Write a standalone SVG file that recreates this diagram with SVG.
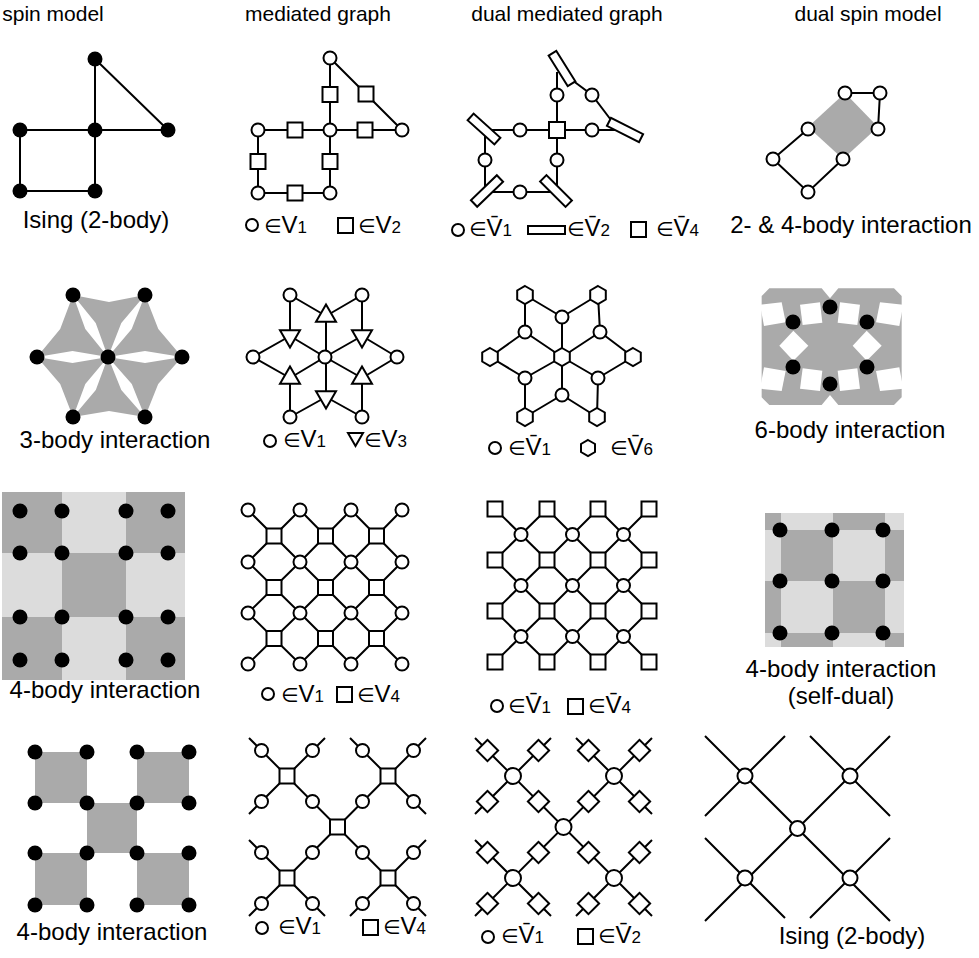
<svg xmlns="http://www.w3.org/2000/svg" width="979" height="958" viewBox="0 0 979 958">
<style>
.t{font-family:"Liberation Sans",Arial,"DejaVu Sans",sans-serif;font-size:24px;fill:#000}
.h{font-family:"Liberation Sans",Arial,sans-serif;font-size:21px;fill:#000;text-anchor:middle}
.m{text-anchor:middle}
.e{font-family:"DejaVu Sans",sans-serif;font-size:20px}
.sub{font-size:17px}
.ln{stroke:#000;stroke-width:2;fill:none}
.c{fill:#fff;stroke:#000;stroke-width:2}
.d{fill:#000}
.g1{fill:#aaa}
.g2{fill:#dcdcdc}
</style>
<rect width="979" height="958" fill="#fff"/>
<g id="headers">
<text class="h" x="53" y="21">spin model</text>
<text class="h" x="318" y="21">mediated graph</text>
<text class="h" x="567" y="21">dual mediated graph</text>
<text class="h" x="868" y="21">dual spin model</text>
</g>

<!-- Row 1 -->
<g id="r1c1">
<path class="ln" d="M95 59V191M95 59L168 130M20 130H168M20 130V191H95"/>
<circle class="d" cx="95" cy="59" r="7.5"/><circle class="d" cx="20" cy="130" r="7.5"/><circle class="d" cx="95" cy="130" r="7.5"/><circle class="d" cx="168" cy="130" r="7.5"/><circle class="d" cx="20" cy="191" r="7.5"/><circle class="d" cx="95" cy="191" r="7.5"/>
<text class="t m" x="96" y="228">Ising (2-body)</text>
</g>
<g id="r1c2">
<path class="ln" d="M330 58V193M330 58L402 130M258 130H402M258 130V193H330"/>
<rect class="c" x="322.5" y="87" width="15" height="15"/><rect class="c" x="358.5" y="86.5" width="15" height="15"/><rect class="c" x="287.5" y="122.5" width="15" height="15"/><rect class="c" x="357.5" y="122.5" width="15" height="15"/><rect class="c" x="250.5" y="154" width="15" height="15"/><rect class="c" x="322.5" y="154" width="15" height="15"/><rect class="c" x="287.5" y="185.5" width="15" height="15"/>
<circle class="c" cx="330" cy="58" r="6.5"/><circle class="c" cx="258" cy="130" r="6.5"/><circle class="c" cx="330" cy="130" r="6.5"/><circle class="c" cx="402" cy="130" r="6.5"/><circle class="c" cx="258" cy="193" r="6.5"/><circle class="c" cx="330" cy="193" r="6.5"/>
<circle class="c" cx="252" cy="225" r="6"/>
<text class="t" x="264" y="233"><tspan class="e">∈</tspan>V<tspan class="sub">1</tspan></text>
<rect class="c" x="338" y="218" width="15" height="15"/>
<text class="t" x="358" y="233"><tspan class="e">∈</tspan>V<tspan class="sub">2</tspan></text>
</g>
<g id="r1c3">
<path class="ln" d="M557 72V192M485 130H615M485 130V192H557M564 74L592 95L614 124"/>
<rect class="c" x="544" y="64" width="36" height="9" transform="rotate(58 562 68.5)"/>
<rect class="c" x="607" y="125.5" width="36" height="9" transform="rotate(27 625 130)"/>
<rect class="c" x="466" y="124.5" width="36" height="9" transform="rotate(42 484 129)"/>
<rect class="c" x="469" y="186.5" width="36" height="9" transform="rotate(-44 487 191)"/>
<rect class="c" x="538" y="186.5" width="36" height="9" transform="rotate(45 556 191)"/>
<rect class="c" x="549" y="122" width="16" height="16"/>
<circle class="c" cx="557" cy="95" r="6.5"/><circle class="c" cx="592" cy="95" r="6.5"/><circle class="c" cx="520" cy="130" r="6.5"/><circle class="c" cx="592" cy="130" r="6.5"/><circle class="c" cx="485" cy="160" r="6.5"/><circle class="c" cx="557" cy="160" r="6.5"/><circle class="c" cx="520" cy="192" r="6.5"/>
<circle class="c" cx="458" cy="230" r="6"/>
<text class="t" x="469" y="236"><tspan class="e">∈</tspan>V&#x304;<tspan class="sub">1</tspan></text>
<rect class="c" x="528" y="226" width="37" height="8"/>
<text class="t" x="567" y="236"><tspan class="e">∈</tspan>V&#x304;<tspan class="sub">2</tspan></text>
<rect class="c" x="631" y="222" width="15" height="15"/>
<text class="t" x="656" y="236"><tspan class="e">∈</tspan>V&#x304;<tspan class="sub">4</tspan></text>
</g>
<g id="r1c4">
<polygon class="g1" points="845,93 878,127 843,159 808,127"/>
<path class="ln" d="M845 93H880L878 129M808 129L773 159L808 192L843 159"/>
<circle class="c" cx="845" cy="93" r="6.5"/><circle class="c" cx="880" cy="93" r="6.5"/><circle class="c" cx="808" cy="129" r="6.5"/><circle class="c" cx="878" cy="129" r="6.5"/><circle class="c" cx="773" cy="159" r="6.5"/><circle class="c" cx="843" cy="159" r="6.5"/><circle class="c" cx="808" cy="192" r="6.5"/>
<text class="t m" x="851" y="233">2- &amp; 4-body interaction</text>
</g>

<!-- Row 2 -->
<g id="r2c1">
<polygon class="g1" points="108,357 95.7,323 73,295 109,302 145,295 121.3,323"/>
<polygon class="g1" points="108,357 131.7,328.9 145,295 158.3,328.9 182,357 145,351"/>
<polygon class="g1" points="108,357 145,363 182,357 158.2,384.1 145,417 131.8,384.1"/>
<polygon class="g1" points="108,357 121.3,389.9 145,417 109,411 73,417 95.8,389.9"/>
<polygon class="g1" points="108,357 85.3,384.1 73,417 60.2,384.1 37,357 72.5,363"/>
<polygon class="g1" points="108,357 72.5,351 37,357 60.2,329 73,295 85.3,329.1"/>
<circle class="d" cx="73" cy="295" r="7.5"/><circle class="d" cx="145" cy="295" r="7.5"/><circle class="d" cx="37" cy="357" r="7.5"/><circle class="d" cx="108" cy="357" r="7.5"/><circle class="d" cx="182" cy="357" r="7.5"/><circle class="d" cx="73" cy="417" r="7.5"/><circle class="d" cx="145" cy="417" r="7.5"/>
<text class="t m" x="115" y="448">3-body interaction</text>
</g>
<g id="r2c2">
<path class="ln" d="M326 316L290 295M326 316L362 295M326 316V357M290 336V295M290 336L253 357M290 336L325 357M362 336V295M362 336L397 357M362 336L325 357M290 378L253 357M290 378V417M290 378L325 357M362 378L397 357M362 378V417M362 378L325 357M326 397L290 417M326 397L362 417M326 397V357"/>
<polygon class="c" points="326,304.5 336,321.8 316,321.8"/>
<polygon class="c" points="290,347.5 300,330.2 280,330.2"/>
<polygon class="c" points="362,347.5 372,330.2 352,330.2"/>
<polygon class="c" points="290,366.5 300,383.8 280,383.8"/>
<polygon class="c" points="362,366.5 372,383.8 352,383.8"/>
<polygon class="c" points="326,408.5 336,391.2 316,391.2"/>
<circle class="c" cx="290" cy="295" r="6.5"/><circle class="c" cx="362" cy="295" r="6.5"/><circle class="c" cx="253" cy="357" r="6.5"/><circle class="c" cx="325" cy="357" r="6.5"/><circle class="c" cx="397" cy="357" r="6.5"/><circle class="c" cx="290" cy="417" r="6.5"/><circle class="c" cx="362" cy="417" r="6.5"/>
<circle class="c" cx="270" cy="441" r="6"/>
<text class="t" x="283" y="447"><tspan class="e">∈</tspan>V<tspan class="sub">1</tspan></text>
<polygon class="c" points="348,433 363,433 355.5,446"/>
<text class="t" x="364" y="447"><tspan class="e">∈</tspan>V<tspan class="sub">3</tspan></text>
</g>
<g id="r2c3">
<path class="ln" d="M562 357V317M562 357V395M562 357L525 332M562 357L600 332M562 357L525 378M562 357L598 378M562 317L525 295M562 317L598 295M525 332V295M525 332L490 357M600 332L598 295M600 332L633 357M525 378L490 357M525 378V417M598 378L633 357M598 378L597 417M562 395L525 417M562 395L597 417"/>
<g class="c">
<polygon points="525,286 532.8,290.5 532.8,299.5 525,304 517.2,299.5 517.2,290.5"/>
<polygon points="598,286 605.8,290.5 605.8,299.5 598,304 590.2,299.5 590.2,290.5"/>
<polygon points="490,348 497.8,352.5 497.8,361.5 490,366 482.2,361.5 482.2,352.5"/>
<polygon points="562,348 569.8,352.5 569.8,361.5 562,366 554.2,361.5 554.2,352.5"/>
<polygon points="633,348 640.8,352.5 640.8,361.5 633,366 625.2,361.5 625.2,352.5"/>
<polygon points="525,408 532.8,412.5 532.8,421.5 525,426 517.2,421.5 517.2,412.5"/>
<polygon points="597,408 604.8,412.5 604.8,421.5 597,426 589.2,421.5 589.2,412.5"/>
</g>
<circle class="c" cx="562" cy="317" r="6.5"/><circle class="c" cx="525" cy="332" r="6.5"/><circle class="c" cx="600" cy="332" r="6.5"/><circle class="c" cx="525" cy="378" r="6.5"/><circle class="c" cx="598" cy="378" r="6.5"/><circle class="c" cx="562" cy="395" r="6.5"/>
<circle class="c" cx="495" cy="448" r="6"/>
<text class="t" x="508" y="455"><tspan class="e">∈</tspan>V&#x304;<tspan class="sub">1</tspan></text>
<polygon class="c" points="588,440 595,444 595,452 588,456 581,452 581,444"/>
<text class="t" x="610" y="455"><tspan class="e">∈</tspan>V&#x304;<tspan class="sub">6</tspan></text>
</g>
<g id="r2c4">
<g transform="translate(740 280) scale(0.33333)">
<path class="g1" d="M65 48L88 25H245L270 55L295 25H462L485 48V352L462 375H295L270 345L245 375H88L65 352Z"/>
<g fill="#fff">
<polygon points="60,74 125,67 137,127 72,138"/>
<polygon points="180,74 240,67 247,128 188,135"/>
<polygon points="360,74 300,67 293,128 352,135"/>
<polygon points="490,74 420,67 408,127 478,138"/>
<polygon points="60,326 125,333 137,273 72,262"/>
<polygon points="180,326 240,333 247,272 188,265"/>
<polygon points="360,326 300,333 293,272 352,265"/>
<polygon points="490,326 420,333 408,273 478,262"/>
<polygon points="160,152 205,197 160,242 118,197"/>
<polygon points="380,152 425,197 380,242 338,197"/>
</g>
</g>
<circle class="d" cx="830" cy="307" r="7.5"/><circle class="d" cx="793" cy="322" r="7.5"/><circle class="d" cx="867" cy="322" r="7.5"/><circle class="d" cx="793" cy="367" r="7.5"/><circle class="d" cx="867" cy="367" r="7.5"/><circle class="d" cx="830" cy="384" r="7.5"/>
<text class="t m" x="850" y="438">6-body interaction</text>
</g>

<!-- Row 3 -->
<g id="r3c1">
<rect class="g1" x="2" y="492" width="60" height="61"/>
<rect class="g2" x="62" y="492" width="64" height="61"/>
<rect class="g1" x="126" y="492" width="59" height="61"/>
<rect class="g2" x="2" y="553" width="60" height="64"/>
<rect class="g1" x="62" y="553" width="64" height="64"/>
<rect class="g2" x="126" y="553" width="59" height="64"/>
<rect class="g1" x="2" y="617" width="60" height="63"/>
<rect class="g2" x="62" y="617" width="64" height="63"/>
<rect class="g1" x="126" y="617" width="59" height="63"/>
<g class="d">
<circle cx="20" cy="511" r="7.5"/><circle cx="62" cy="511" r="7.5"/><circle cx="126" cy="511" r="7.5"/><circle cx="168" cy="511" r="7.5"/>
<circle cx="20" cy="553" r="7.5"/><circle cx="62" cy="553" r="7.5"/><circle cx="126" cy="553" r="7.5"/><circle cx="168" cy="553" r="7.5"/>
<circle cx="20" cy="617" r="7.5"/><circle cx="62" cy="617" r="7.5"/><circle cx="126" cy="617" r="7.5"/><circle cx="168" cy="617" r="7.5"/>
<circle cx="20" cy="660" r="7.5"/><circle cx="62" cy="660" r="7.5"/><circle cx="126" cy="660" r="7.5"/><circle cx="168" cy="660" r="7.5"/>
</g>
<text class="t m" x="105" y="698">4-body interaction</text>
</g>
<g id="r3c2">
<path class="ln" d="M248 510L300 562M300 510L248 562M300 510L351 562M351 510L300 562M351 510L402 562M402 510L351 562M248 562L300 613M300 562L248 613M300 562L351 613M351 562L300 613M351 562L402 613M402 562L351 613M248 613L300 664M300 613L248 664M300 613L351 664M351 613L300 664M351 613L402 664M402 613L351 664"/>
<g class="c">
<rect x="266.5" y="528.5" width="15" height="15"/><rect x="318" y="528.5" width="15" height="15"/><rect x="369" y="528.5" width="15" height="15"/>
<rect x="266.5" y="580" width="15" height="15"/><rect x="318" y="580" width="15" height="15"/><rect x="369" y="580" width="15" height="15"/>
<rect x="266.5" y="631" width="15" height="15"/><rect x="318" y="631" width="15" height="15"/><rect x="369" y="631" width="15" height="15"/>
<circle cx="248" cy="510" r="6.5"/><circle cx="300" cy="510" r="6.5"/><circle cx="351" cy="510" r="6.5"/><circle cx="402" cy="510" r="6.5"/>
<circle cx="248" cy="562" r="6.5"/><circle cx="300" cy="562" r="6.5"/><circle cx="351" cy="562" r="6.5"/><circle cx="402" cy="562" r="6.5"/>
<circle cx="248" cy="613" r="6.5"/><circle cx="300" cy="613" r="6.5"/><circle cx="351" cy="613" r="6.5"/><circle cx="402" cy="613" r="6.5"/>
<circle cx="248" cy="664" r="6.5"/><circle cx="300" cy="664" r="6.5"/><circle cx="351" cy="664" r="6.5"/><circle cx="402" cy="664" r="6.5"/>
</g>
<circle class="c" cx="268" cy="694" r="6"/>
<text class="t" x="281" y="702"><tspan class="e">∈</tspan>V<tspan class="sub">1</tspan></text>
<rect class="c" x="337" y="687" width="15" height="15"/>
<text class="t" x="357" y="702"><tspan class="e">∈</tspan>V<tspan class="sub">4</tspan></text>
</g>
<g id="r3c3">
<path class="ln" d="M495 509L547 560M547 509L495 560M547 509L598 560M598 509L547 560M598 509L649 560M649 509L598 560M495 560L547 611M547 560L495 611M547 560L598 611M598 560L547 611M598 560L649 611M649 560L598 611M495 611L547 662M547 611L495 662M547 611L598 662M598 611L547 662M598 611L649 662M649 611L598 662"/>
<g class="c">
<rect x="487.5" y="501.5" width="15" height="15"/><rect x="539.5" y="501.5" width="15" height="15"/><rect x="590.5" y="501.5" width="15" height="15"/><rect x="641.5" y="501.5" width="15" height="15"/>
<rect x="487.5" y="552.5" width="15" height="15"/><rect x="539.5" y="552.5" width="15" height="15"/><rect x="590.5" y="552.5" width="15" height="15"/><rect x="641.5" y="552.5" width="15" height="15"/>
<rect x="487.5" y="603.5" width="15" height="15"/><rect x="539.5" y="603.5" width="15" height="15"/><rect x="590.5" y="603.5" width="15" height="15"/><rect x="641.5" y="603.5" width="15" height="15"/>
<rect x="487.5" y="654.5" width="15" height="15"/><rect x="539.5" y="654.5" width="15" height="15"/><rect x="590.5" y="654.5" width="15" height="15"/><rect x="641.5" y="654.5" width="15" height="15"/>
<circle cx="521" cy="534.5" r="6.5"/><circle cx="572.5" cy="534.5" r="6.5"/><circle cx="623.5" cy="534.5" r="6.5"/>
<circle cx="521" cy="585.5" r="6.5"/><circle cx="572.5" cy="585.5" r="6.5"/><circle cx="623.5" cy="585.5" r="6.5"/>
<circle cx="521" cy="636.5" r="6.5"/><circle cx="572.5" cy="636.5" r="6.5"/><circle cx="623.5" cy="636.5" r="6.5"/>
</g>
<circle class="c" cx="497" cy="706" r="6"/>
<text class="t" x="508" y="713"><tspan class="e">∈</tspan>V&#x304;<tspan class="sub">1</tspan></text>
<rect class="c" x="568" y="699" width="15" height="15"/>
<text class="t" x="588" y="713"><tspan class="e">∈</tspan>V&#x304;<tspan class="sub">4</tspan></text>
</g>
<g id="r3c4">
<rect class="g1" x="765" y="513" width="16" height="17"/>
<rect class="g2" x="781" y="513" width="52" height="17"/>
<rect class="g1" x="833" y="513" width="52" height="17"/>
<rect class="g2" x="885" y="513" width="19" height="17"/>
<rect class="g2" x="765" y="530" width="16" height="51"/>
<rect class="g1" x="781" y="530" width="52" height="51"/>
<rect class="g2" x="833" y="530" width="52" height="51"/>
<rect class="g1" x="885" y="530" width="19" height="51"/>
<rect class="g1" x="765" y="581" width="16" height="52"/>
<rect class="g2" x="781" y="581" width="52" height="52"/>
<rect class="g1" x="833" y="581" width="52" height="52"/>
<rect class="g2" x="885" y="581" width="19" height="52"/>
<rect class="g2" x="765" y="633" width="16" height="14"/>
<rect class="g1" x="781" y="633" width="52" height="14"/>
<rect class="g2" x="833" y="633" width="52" height="14"/>
<rect class="g1" x="885" y="633" width="19" height="14"/>
<g class="d">
<circle cx="780" cy="530" r="7.5"/><circle cx="832" cy="530" r="7.5"/><circle cx="883" cy="530" r="7.5"/>
<circle cx="780" cy="581" r="7.5"/><circle cx="832" cy="581" r="7.5"/><circle cx="883" cy="581" r="7.5"/>
<circle cx="780" cy="633" r="7.5"/><circle cx="832" cy="633" r="7.5"/><circle cx="883" cy="633" r="7.5"/>
</g>
<text class="t m" x="841" y="677">4-body interaction</text>
<text class="t m" x="841" y="704">(self-dual)</text>
</g>

<!-- Row 4 -->
<g id="r4c1">
<g class="g1">
<rect x="35" y="752" width="52" height="51"/><rect x="137" y="752" width="52" height="51"/><rect x="87" y="803" width="50" height="50"/><rect x="35" y="853" width="52" height="52"/><rect x="137" y="853" width="52" height="52"/>
</g>
<g class="d">
<circle cx="35" cy="752" r="7.5"/><circle cx="87" cy="752" r="7.5"/><circle cx="137" cy="752" r="7.5"/><circle cx="189" cy="752" r="7.5"/>
<circle cx="35" cy="803" r="7.5"/><circle cx="87" cy="803" r="7.5"/><circle cx="137" cy="803" r="7.5"/><circle cx="189" cy="803" r="7.5"/>
<circle cx="35" cy="853" r="7.5"/><circle cx="87" cy="853" r="7.5"/><circle cx="137" cy="853" r="7.5"/><circle cx="189" cy="853" r="7.5"/>
<circle cx="35" cy="905" r="7.5"/><circle cx="87" cy="905" r="7.5"/><circle cx="137" cy="905" r="7.5"/><circle cx="189" cy="905" r="7.5"/>
</g>
<text class="t m" x="112" y="940">4-body interaction</text>
</g>
<g id="r4c2">
<path class="ln" d="M249 738L426 916M426 738L249 916M325 738L249 814M350 738L426 814M249 840L325 916M426 840L350 916"/>
<g class="c">
<rect x="279.5" y="768.5" width="15" height="15"/><rect x="380.5" y="768.5" width="15" height="15"/><rect x="330" y="819.5" width="15" height="15"/><rect x="279.5" y="870.5" width="15" height="15"/><rect x="380.5" y="870.5" width="15" height="15"/>
<circle cx="261.5" cy="750.5" r="6.5"/><circle cx="312.5" cy="750.5" r="6.5"/><circle cx="362.5" cy="750.5" r="6.5"/><circle cx="413.5" cy="750.5" r="6.5"/>
<circle cx="261.5" cy="801.5" r="6.5"/><circle cx="312.5" cy="801.5" r="6.5"/><circle cx="362.5" cy="801.5" r="6.5"/><circle cx="413.5" cy="801.5" r="6.5"/>
<circle cx="261.5" cy="852.5" r="6.5"/><circle cx="312.5" cy="852.5" r="6.5"/><circle cx="362.5" cy="852.5" r="6.5"/><circle cx="413.5" cy="852.5" r="6.5"/>
<circle cx="261.5" cy="903.5" r="6.5"/><circle cx="312.5" cy="903.5" r="6.5"/><circle cx="362.5" cy="903.5" r="6.5"/><circle cx="413.5" cy="903.5" r="6.5"/>
</g>
<circle class="c" cx="262" cy="928" r="6"/>
<text class="t" x="278" y="934"><tspan class="e">∈</tspan>V<tspan class="sub">1</tspan></text>
<rect class="c" x="363" y="920" width="15" height="15"/>
<text class="t" x="383" y="934"><tspan class="e">∈</tspan>V<tspan class="sub">4</tspan></text>
</g>
<g id="r4c3">
<path class="ln" d="M475 738L652 916M652 738L475 916M551 738L475 814M576 738L652 814M475 840L551 916M652 840L576 916"/>
<g class="c">
<g transform="translate(487.5 750.5) rotate(45)"><rect x="-7.5" y="-7.5" width="15" height="15"/></g>
<g transform="translate(538.5 750.5) rotate(45)"><rect x="-7.5" y="-7.5" width="15" height="15"/></g>
<g transform="translate(588.5 750.5) rotate(45)"><rect x="-7.5" y="-7.5" width="15" height="15"/></g>
<g transform="translate(639.5 750.5) rotate(45)"><rect x="-7.5" y="-7.5" width="15" height="15"/></g>
<g transform="translate(487.5 801.5) rotate(45)"><rect x="-7.5" y="-7.5" width="15" height="15"/></g>
<g transform="translate(538.5 801.5) rotate(45)"><rect x="-7.5" y="-7.5" width="15" height="15"/></g>
<g transform="translate(588.5 801.5) rotate(45)"><rect x="-7.5" y="-7.5" width="15" height="15"/></g>
<g transform="translate(639.5 801.5) rotate(45)"><rect x="-7.5" y="-7.5" width="15" height="15"/></g>
<g transform="translate(487.5 852.5) rotate(45)"><rect x="-7.5" y="-7.5" width="15" height="15"/></g>
<g transform="translate(538.5 852.5) rotate(45)"><rect x="-7.5" y="-7.5" width="15" height="15"/></g>
<g transform="translate(588.5 852.5) rotate(45)"><rect x="-7.5" y="-7.5" width="15" height="15"/></g>
<g transform="translate(639.5 852.5) rotate(45)"><rect x="-7.5" y="-7.5" width="15" height="15"/></g>
<g transform="translate(487.5 903.5) rotate(45)"><rect x="-7.5" y="-7.5" width="15" height="15"/></g>
<g transform="translate(538.5 903.5) rotate(45)"><rect x="-7.5" y="-7.5" width="15" height="15"/></g>
<g transform="translate(588.5 903.5) rotate(45)"><rect x="-7.5" y="-7.5" width="15" height="15"/></g>
<g transform="translate(639.5 903.5) rotate(45)"><rect x="-7.5" y="-7.5" width="15" height="15"/></g>
<circle cx="513" cy="776" r="8"/><circle cx="614" cy="776" r="8"/><circle cx="563.5" cy="827" r="8"/><circle cx="513" cy="878" r="8"/><circle cx="614" cy="878" r="8"/>
</g>
<circle class="c" cx="488" cy="937" r="6"/>
<text class="t" x="501" y="943"><tspan class="e">∈</tspan>V&#x304;<tspan class="sub">1</tspan></text>
<rect class="c" x="578" y="929" width="15" height="15"/>
<text class="t" x="598" y="943"><tspan class="e">∈</tspan>V&#x304;<tspan class="sub">2</tspan></text>
</g>
<g id="r4c4">
<path class="ln" d="M705 736L890 921M890 736L705 921M785 736L705 816M810 736L890 816M705 838L785 918M890 838L810 918"/>
<g class="c">
<circle cx="745" cy="776" r="7.5"/><circle cx="850" cy="776" r="7.5"/><circle cx="797.5" cy="828.5" r="7.5"/><circle cx="745" cy="878" r="7.5"/><circle cx="850" cy="878" r="7.5"/>
</g>
<text class="t m" x="852" y="944">Ising (2-body)</text>
</g>
</svg>
